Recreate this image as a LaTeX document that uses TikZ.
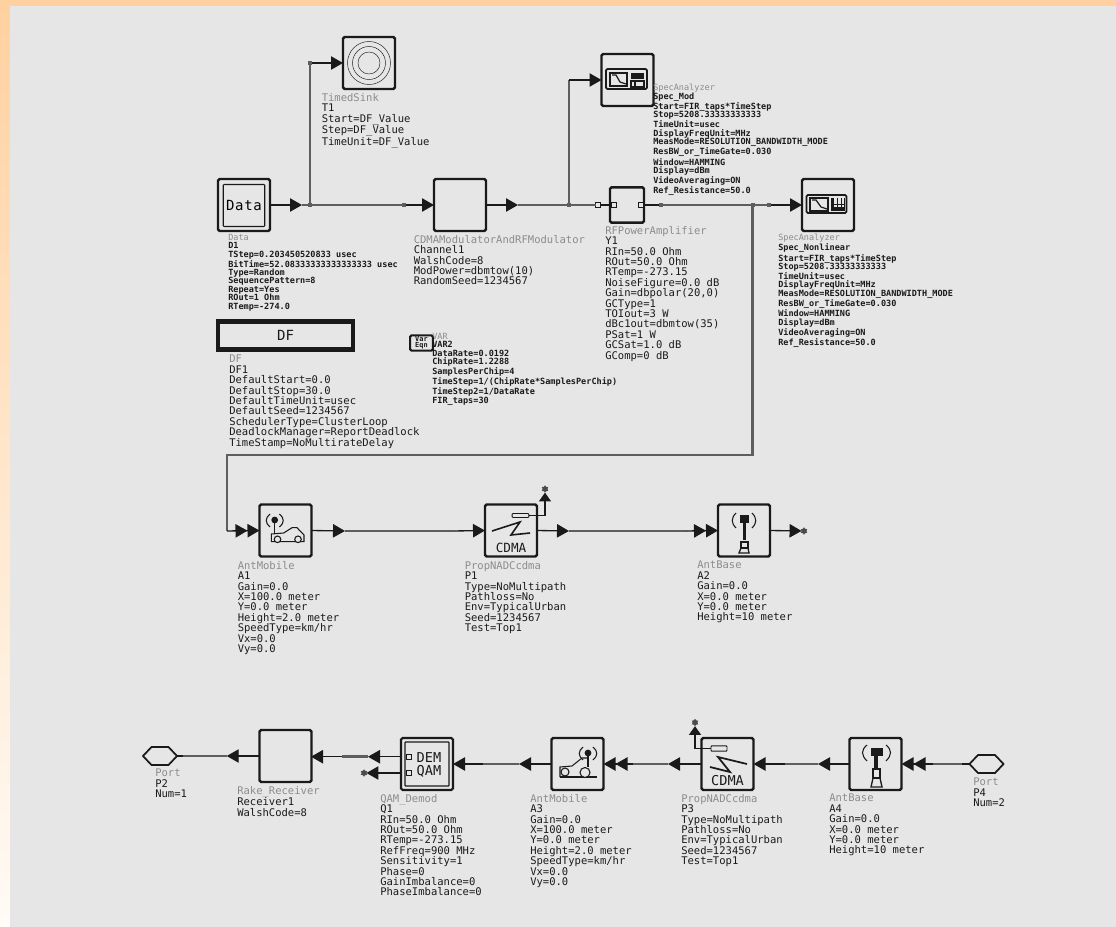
\documentclass[tikz,border=0pt]{standalone}
\usepackage{fontspec}
\usetikzlibrary{arrows.meta,shapes.geometric}
\newfontfamily\labfont{DejaVu Sans Mono}
\definecolor{bggray}{HTML}{E6E6E6}
\definecolor{edgeor}{HTML}{FFD1A0}
\definecolor{edgelt}{HTML}{FFFBF6}
\definecolor{namegray}{HTML}{8C8C8C}
\definecolor{wiregray}{HTML}{5E5E5E}
\definecolor{ink}{HTML}{1A1A1A}
\newcommand{\nm}[1]{{\color{namegray}\mdseries #1}}
\tikzset{
  blk/.style={draw=ink,line width=1.8pt,rounded corners=1.2pt,minimum width=39pt,minimum height=39pt,inner sep=0,outer sep=0},
  thinbox/.style={draw=ink,line width=.9pt,inner sep=0,outer sep=0,rounded corners=.6pt},
  wthin/.style={draw=ink,line width=1pt},
  wgray/.style={draw=wiregray,line width=1.9pt},
  arr/.style={wthin,-{Triangle[length=9pt,width=10pt]}},
  arrr/.style={wthin,-{Triangle[length=9pt,width=10pt]Triangle[length=9pt,width=10pt]}},
  pinarr/.style={wthin,line width=.8pt,-{Triangle[length=6.5pt,width=9pt]}},
  jdot/.style={draw=none,fill=wiregray,minimum size=3pt,inner sep=0,outer sep=0},
  portsq/.style={draw=ink,line width=.6pt,fill=bggray,minimum size=3.4pt,inner sep=0,outer sep=0},
  pinstar/.style={star,star points=6,fill=wiregray!80!black,minimum size=5.5pt,inner sep=0,outer sep=0},
  hexport/.style={regular polygon,regular polygon sides=6,draw=ink,line width=1.3pt,minimum size=15.6pt,xscale=1.635,inner sep=0,outer sep=0},
  slab/.style={anchor=north west,inner sep=0,align=left,text=ink,font=\labfont\bfseries\fontsize{6.4}{6.27}\selectfont},
  llab/.style={anchor=north west,inner sep=0,align=left,text=ink,font=\labfont\fontsize{7.9}{7.8}\selectfont},
  rlab/.style={llab,font=\labfont\fontsize{7.9}{8.25}\selectfont},
  blktext/.style={text=ink,font=\labfont\fontsize{10.5}{10.5}\selectfont},
  ic/.style={draw=ink,line width=.8pt},
  icf/.style={draw=ink,fill=ink,line width=.5pt}
}
\begin{document}
\begin{tikzpicture}[x=.75pt,y=-.75pt]
\useasboundingbox (0,0) rectangle (1116,927);
% background
\fill[edgeor] (0,0) rectangle (1116,6);
\shade[top color=edgeor,bottom color=edgelt] (0,0) rectangle (10,927);
\fill[bggray] (10,6) rectangle (1116,927);

% blocks, first row
\node[blk] (data) at (244,205) {};
\node[thinbox,minimum width=31pt,minimum height=31.5pt] (datain) at (244,205.5) {\labfont\fontsize{10.5}{10.5}\selectfont D\hspace{.5pt}a\hspace{.5pt}t\hspace{.5pt}a};
\node[blk] (sink) at (369,63) {};
\node[blk] (cdmamod) at (460,205) {};
\node[blk] (spa) at (627.5,80) {};
\node[blk,minimum width=25.5pt,minimum height=26.5pt] (rfpa) at (627,205) {};
\node[blk] (spb) at (828,205) {};

% first-row wires
\node[jdot] (ja) at (310,205) {};
\node[jdot] (jb) at (310,63) {};
\node[jdot] (jc) at (403.5,205) {};
\node[jdot] (jd) at (569,205) {};
\coordinate (je) at (569,80);
\node[jdot] (jf) at (752.5,205) {};
\node[jdot] (jg) at (769,205) {};
\node[jdot] (jh) at (661,205) {};
\node[portsq] (ji) at (598,205) {};
\coordinate (tipa) at (302,205);
\coordinate (tipb) at (518,205);
\coordinate (cora) at (752.5,455);
\coordinate (corb) at (227,455);
\coordinate (corc) at (227,531);
\draw[arr] (data.east) -- (tipa);
\draw[wgray] (tipa) -- (jc);
\draw[wgray] (ja) -- (jb);
\draw[arr] (jb) -- (sink.west);
\draw[arr] (jc) -- (cdmamod.west);
\draw[arr] (cdmamod.east) -- (tipb);
\draw[wgray] (tipb) -- (ji);
\draw[wgray] (jd) -- (je);
\draw[arr] (je) -- (spa.west);
\draw[wthin] (ji) -- (rfpa.west);
\draw[wthin] (rfpa.east) -- (jh);
\draw[wgray] (jh) -- (jg);
\draw[arr] (jg) -- (spb.west);
\draw[wgray] (jf) -- (cora) -- (corb) -- (corc);
\node[portsq] (rfin) at (614,205) {};
\node[portsq] (rfout) at (641,205) {};

% timed sink icon
\foreach \r in {11,16.5,21.5}{\draw[draw=ink,line width=.35pt] (sink.center) circle[radius=\r];}

% spectrum analyser icon 1
\draw[ic,line width=1.3pt,rounded corners=1pt] (606,69) rectangle (647,89);
\draw[ic] (610,73) rectangle (627,86);
\draw[ic,line width=.9pt] (612,75) -- (616,75) -- (620,82) -- (626,84);
\fill[ink] (631,73) rectangle (644,79);
\draw[ic] (631,81) rectangle (644,87);
\draw[ic] (635,81) -- (635,87);
% spectrum analyser icon 2
\draw[ic,line width=1.3pt,rounded corners=1pt] (806.5,195) rectangle (846.5,213);
\draw[ic] (810,198) rectangle (828,211);
\draw[ic,line width=.9pt] (812,200) -- (816,200) -- (821,207) -- (827,209);
\fill[ink] (831,198) rectangle (834,211);
\draw[ic,line width=.6pt] (837,198) -- (837,211) (841,198) -- (841,211) (844,198) -- (844,211) (831,204) -- (845,204);
\fill[ink] (831,207) rectangle (845,211);

% DF and VAR
\node[draw=ink,line width=3.2pt,minimum width=101.5pt,minimum height=21pt,inner sep=0,outer sep=0,blktext] (df) at (285.5,335.5) {DF};
\node[draw=ink,line width=1.6pt,rounded corners=1pt,minimum width=17pt,minimum height=11.5pt,inner sep=0,outer sep=0,align=center,font=\labfont\bfseries\fontsize{5.2}{4.4}\selectfont,text=ink] (var) at (421.5,343) {Var\\Eqn};

% second row
\node[blk] (aa) at (285.5,530.5) {};
\node[blk] (pa) at (511,530.5) {};
\node[blk] (ab) at (744,530.5) {};
\coordinate (w1) at (345,531);
\coordinate (w2) at (453,531);
\coordinate (w3) at (569,531);
\coordinate (w4) at (686.5,531);
\node[pinstar] (sa) at (804,531) {};
\node[pinstar] (sb) at (545,489) {};
\node[thinbox,line width=.7pt,fill=bggray,minimum width=12.5pt,minimum height=3pt] (pari) at (520.5,515.5) {};
\draw[arrr] (corc) -- (aa.west);
\draw[arr] (aa.east) -- (w1);
\draw[wgray] (w1) -- (w2);
\draw[arr] (w2) -- (pa.west);
\draw[arr] (pa.east) -- (w3);
\draw[wgray] (w3) -- (w4);
\draw[arrr] (w4) -- (ab.west);
\draw[arr] (ab.east) -- (sa);
\draw[pinarr] (pari.east) -| (sb.south);
% icons row 2
\node[blktext,font=\labfont\fontsize{9.5}{9.5}\selectfont] (pacd) at (511,548) {CDMA};
\draw[ic,line width=1.2pt] (492,531) -- (520,522) -- (511,535) -- (530,533);
% car A1
\draw[ic] (271.4,541.7) -- (271.4,534) -- (283.7,533) -- (292,527.7) -- (297,527.7) -- (304,535) -- (304,541.7) -- cycle;
\draw[ic,fill=bggray] (277.5,539.3) circle[radius=3.3] (298,539.3) circle[radius=3.3];
\draw[ic] (274.7,522) -- (274.7,533);
\fill[ink] (274.7,520) circle[radius=3.4];
\draw[ic] (270,514) .. controls (265,518) and (265,523) .. (270,527);
\draw[ic] (279.5,514) .. controls (284.5,518) and (284.5,523) .. (279.5,527);
% tower A2
\fill[ink] (739.5,515) rectangle (748.5,522.7);
\draw[ic] (736,513) .. controls (731,518) and (731,523) .. (736,528);
\draw[ic] (752,513) .. controls (757,518) and (757,523) .. (752,528);
\fill[ink] (742.5,522) rectangle (745.5,540);
\draw[ic,line width=1pt] (741,542) rectangle (748,548);
\draw[ic,line width=1pt] (741,548) -- (739,553) -- (749,553) -- (748,548);

% third row
\node[hexport] (pb) at (160,756) {};
\node[blk] (rake) at (285.5,756) {};
\node[blk,line width=1.6pt] (qam) at (427,764) {};
\node[thinbox,minimum width=33pt,minimum height=33pt] (qamin) at (427,764) {};
\node[blktext,font=\labfont\fontsize{10.2}{10.2}\selectfont] (qamt) at (429,758) {DEM};
\node[blktext,font=\labfont\fontsize{10.2}{10.2}\selectfont] (qamb) at (429,771.5) {QAM};
\node[portsq] (qpa) at (409,756.7) {};
\node[portsq] (qpb) at (409,773) {};
\node[blk] (ac) at (577.5,764) {};
\node[blk] (pc) at (727.5,764) {};
\node[blk] (ad) at (875.5,764) {};
\node[hexport] (pd) at (986.5,764) {};
\coordinate (v1) at (961.7,764);
\coordinate (v2) at (933,764);
\coordinate (v3) at (818,764);
\coordinate (v4) at (785,764);
\coordinate (v5) at (668,764);
\coordinate (v6) at (633,764);
\coordinate (v7) at (519,764);
\coordinate (v8) at (483,764);
\coordinate (v9) at (368,756.7);
\coordinate (v10) at (341.7,756.7);
\coordinate (v11) at (226.7,756);
\coordinate (v12) at (183,756);
\coordinate (qala) at (401,756.7);
\coordinate (qalb) at (401,773);
\coordinate (rkin) at (311,756.7);
\node[pinstar] (sc) at (364,773) {};
\node[pinstar] (sd) at (695,722.5) {};
\node[thinbox,line width=.7pt,fill=bggray,minimum width=12pt,minimum height=4pt] (pcri) at (719,748.5) {};
\draw[wthin] (pd.west) -- (v1);
\draw[wgray] (v1) -- (v2);
\draw[arrr] (v2) -- (ad.east);
\draw[arr] (ad.west) -- (v3);
\draw[wgray] (v3) -- (v4);
\draw[arr] (v4) -- (pc.east);
\draw[arr] (pc.west) -- (v5);
\draw[wgray] (v5) -- (v6);
\draw[arrr] (v6) -- (ac.east);
\draw[arr] (ac.west) -- (v7);
\draw[wgray] (v7) -- (v8);
\draw[arr] (v8) -- (qam.east);
\draw[arr] (qala) -- (v9);
\draw[wgray] (v9) -- (v10);
\draw[arr] (v10) -- (rkin);
\draw[arr] (rake.west) -- (v11);
\draw[wgray] (v11) -- (v12);
\draw[wthin] (v12) -- (pb.east);
\draw[arr] (qalb) -- (sc.east);
\draw[pinarr] (pcri.west) -| (sd.south);
% icons row 3
\node[blktext,font=\labfont\fontsize{10.2}{10.2}\selectfont] (pcdm) at (727.5,780.5) {CDMA};
\draw[ic,line width=1.3pt] (710,767) -- (730,772) -- (718,757) -- (747,764);
% car A3
\draw[ic] (560,777) -- (560,767) -- (572,766) -- (582,758) -- (588,758);
\draw[ic] (560,777) -- (597,777);
\draw[ic,fill=bggray] (565,772) circle[radius=4] (585,772.5) circle[radius=5];
\draw[ic] (588,756) -- (588,767);
\fill[ink] (588,753) circle[radius=3.4];
\draw[ic] (583,747) .. controls (578,751) and (578,756) .. (583,760);
\draw[ic] (593,747) .. controls (598,751) and (598,756) .. (593,760);
% tower A4
\fill[ink] (870.5,748) rectangle (882.5,756);
\draw[ic] (867,745) .. controls (861,750) and (861,755) .. (867,761);
\draw[ic] (886,745) .. controls (892,750) and (892,755) .. (886,761);
\fill[ink] (874,756) rectangle (878,768);
\draw[ic,line width=1pt] (873,769) rectangle (880,778);
\draw[ic,line width=1pt] (873,778) -- (871,787) -- (882,787) -- (880,778);

% labels
\node[llab] (tlab) at (321.5,93) {\nm{TimedSink}\\T1\\Start=DF\_Value\\Step=DF\_Value\\TimeUnit=DF\_Value};
\node[slab] (dlab) at (228,234) {\nm{Data}\\D1\\TStep=0.203450520833 usec\\BitTime=52.08333333333333333 usec\\Type=Random\\SequencePattern=8\\Repeat=Yes\\ROut=1 Ohm\\RTemp=-274.0};
\node[llab] (clab) at (413.5,235) {\nm{CDMAModulatorAndRFModulator}\\Channel1\\WalshCode=8\\ModPower=dbmtow(10)\\RandomSeed=1234567};
\node[slab] (salab) at (653,84) {\nm{SpecAnalyzer}\\Spec\_Mod\\Start=FIR\_taps*TimeStep\\Stop=5208.33333333333\\TimeUnit=usec\\DisplayFreqUnit=MHz\\MeasMode=RESOLUTION\_BANDWIDTH\_MODE\\ResBW\_or\_TimeGate=0.030\\Window=HAMMING\\Display=dBm\\VideoAveraging=ON\\Ref\_Resistance=50.0};
\node[llab] (rflab) at (605,226) {\nm{RFPowerAmplifier}\\Y1\\RIn=50.0 Ohm\\ROut=50.0 Ohm\\RTemp=-273.15\\NoiseFigure=0.0 dB\\Gain=dbpolar(20,0)\\GCType=1\\TOIout=3 W\\dBc1out=dbmtow(35)\\PSat=1 W\\GCSat=1.0 dB\\GComp=0 dB};
\node[slab] (sblab) at (778,234) {\nm{SpecAnalyzer}\\Spec\_Nonlinear\\Start=FIR\_taps*TimeStep\\Stop=5208.33333333333\\TimeUnit=usec\\DisplayFreqUnit=MHz\\MeasMode=RESOLUTION\_BANDWIDTH\_MODE\\ResBW\_or\_TimeGate=0.030\\Window=HAMMING\\Display=dBm\\VideoAveraging=ON\\Ref\_Resistance=50.0};
\node[llab] (dflab) at (229,355) {\nm{DF}\\DF1\\DefaultStart=0.0\\DefaultStop=30.0\\DefaultTimeUnit=usec\\DefaultSeed=1234567\\SchedulerType=ClusterLoop\\DeadlockManager=ReportDeadlock\\TimeStamp=NoMultirateDelay};
\node[slab] (vlab) at (432,333) {\nm{VAR}\\VAR2\\DataRate=0.0192\\ChipRate=1.2288\\SamplesPerChip=4\\TimeStep=1/(ChipRate*SamplesPerChip)\\TimeStep2=1/DataRate\\FIR\_taps=30};
\node[llab] (aalab) at (237.5,561) {\nm{AntMobile}\\A1\\Gain=0.0\\X=100.0 meter\\Y=0.0 meter\\Height=2.0 meter\\SpeedType=km/hr\\Vx=0.0\\Vy=0.0};
\node[llab] (palab) at (464.5,561) {\nm{PropNADCcdma}\\P1\\Type=NoMultipath\\Pathloss=No\\Env=TypicalUrban\\Seed=1234567\\Test=Top1};
\node[llab] (ablab) at (697,561) {\nm{AntBase}\\A2\\Gain=0.0\\X=0.0 meter\\Y=0.0 meter\\Height=10 meter};
\node[llab] (pblab) at (155,769) {\nm{Port}\\P2\\Num=1};
\node[rlab] (rklab) at (237,786) {\nm{Rake\_Receiver}\\Receiver1\\WalshCode=8};
\node[llab] (qlab) at (380,794) {\nm{QAM\_Demod}\\Q1\\RIn=50.0 Ohm\\ROut=50.0 Ohm\\RTemp=-273.15\\RefFreq=900 MHz\\Sensitivity=1\\Phase=0\\GainImbalance=0\\PhaseImbalance=0};
\node[llab] (aclab) at (530,794) {\nm{AntMobile}\\A3\\Gain=0.0\\X=100.0 meter\\Y=0.0 meter\\Height=2.0 meter\\SpeedType=km/hr\\Vx=0.0\\Vy=0.0};
\node[llab] (pclab) at (681,794) {\nm{PropNADCcdma}\\P3\\Type=NoMultipath\\Pathloss=No\\Env=TypicalUrban\\Seed=1234567\\Test=Top1};
\node[llab] (adlab) at (829,794) {\nm{AntBase}\\A4\\Gain=0.0\\X=0.0 meter\\Y=0.0 meter\\Height=10 meter};
\node[llab] (pdlab) at (973,778) {\nm{Port}\\P4\\Num=2};
\end{tikzpicture}
\end{document}
